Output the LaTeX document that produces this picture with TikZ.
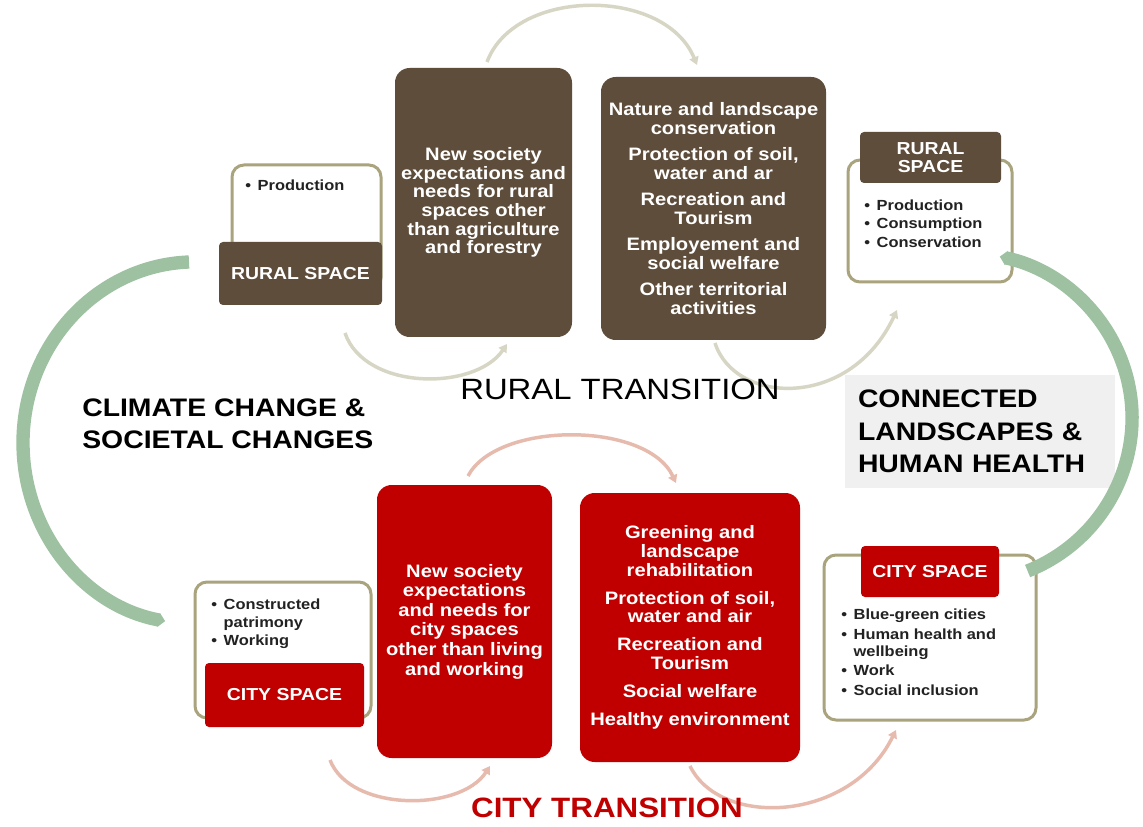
\documentclass[tikz,border=0pt]{standalone}
\usepackage{fontspec}
\setmainfont{Liberation Sans}[FakeStretch=1.12]
\usetikzlibrary{arrows.meta}
\definecolor{brownbox}{HTML}{5E4D3B}
\definecolor{redbox}{HTML}{C00000}
\definecolor{outlinec}{HTML}{A9A47E}
\definecolor{greenarc}{HTML}{9DC1A1}
\definecolor{grayarc}{HTML}{D7D6C4}
\definecolor{pinkarc}{HTML}{E6BAAD}
\definecolor{conngray}{HTML}{F0F0F0}
\definecolor{bultext}{HTML}{222222}
\begin{document}
\begin{tikzpicture}[x=0.75pt,y=-0.75pt,
  bigbox/.style={rounded corners=11pt, inner sep=0pt, text=white, align=center,
    font=\fontsize{13.5}{14}\selectfont\bfseries},
  titlebox/.style={rounded corners=3pt, inner sep=0pt, text=white, align=center,
    font=\fontsize{13}{14}\selectfont\bfseries},
  framebox/.style={draw=outlinec, line width=2.25pt, rounded corners=9pt, fill=white, inner sep=0pt},
  bullets/.style={anchor=west, inner sep=0pt, text=bultext, align=left,
    font=\fontsize{11}{13}\selectfont\bfseries},
  heading/.style={inner sep=0pt, align=left, font=\fontsize{19}{24.4}\selectfont\bfseries},
  greenflow/.style={draw=greenarc, line width=10pt, -{Triangle[length=5pt,width=10.5pt]}},
  rflow/.style={draw=grayarc, line width=2.6pt, -{Triangle[length=6pt,width=7pt]}},
  cflow/.style={draw=pinkarc, line width=2.6pt, -{Triangle[length=6pt,width=7pt]}},
]
\useasboundingbox[fill=white] (0,0) rectangle (1143,827);

% thin transition arcs (behind boxes)
\coordinate (ga1) at (487,62);   \coordinate (ga2) at (697,65);
\coordinate (ga3) at (345,333);  \coordinate (ga4) at (507,344);
\coordinate (ga5) at (715,343);  \coordinate (ga6) at (897,310);
\coordinate (ca1) at (468,476);  \coordinate (ca2) at (676,483);
\coordinate (ca3) at (330,760);  \coordinate (ca4) at (490,766);
\coordinate (ca5) at (690,766);  \coordinate (ca6) at (896,730);
\draw[rflow] (ga1) .. controls (515,-13) and (665,-13) .. (ga2);
\draw[rflow] (ga3) .. controls (365,391) and (475,391) .. (ga4);
\draw[rflow] (ga5) .. controls (735,405) and (850,410) .. (ga6);
\draw[cflow] (ca1) .. controls (497,421) and (647,421) .. (ca2);
\draw[cflow] (ca3) .. controls (350,812) and (460,812) .. (ca4);
\draw[cflow] (ca5) .. controls (720,828) and (850,823) .. (ca6);

% big boxes
\node[bigbox, fill=brownbox, minimum width=132.75pt, minimum height=201.75pt] (b1) at (483.5,202.5)
  {New society\\expectations and\\needs for rural\\spaces other\\than agriculture\\and forestry};
\node[bigbox, fill=brownbox, minimum width=168.75pt, minimum height=197.25pt] (b2) at (713.5,208.5)
  {Nature and landscape\\conservation\\[5.7pt]Protection of soil,\\water and ar\\[5.7pt]Recreation and\\Tourism\\[5.7pt]Employement and\\social welfare\\[5.7pt]Other territorial\\activities};
\node[bigbox, fill=redbox, minimum width=131.25pt, minimum height=204.75pt,
  font=\fontsize{13.5}{14.7}\selectfont\bfseries] (r1) at (464.5,621.5)
  {New society\\expectations\\and needs for\\city spaces\\other than living\\and working};
\node[bigbox, fill=redbox, minimum width=165pt, minimum height=201.75pt] (r2) at (690,627.5)
  {Greening and\\landscape\\rehabilitation\\[7pt]Protection of soil,\\water and air\\[7pt]Recreation and\\Tourism\\[7pt]Social welfare\\[7pt]Healthy environment};

% space boxes: frames
\node[framebox, minimum width=111.75pt, minimum height=93.75pt] (o1) at (306.5,227.5) {};
\node[framebox, minimum width=123pt, minimum height=91.5pt] (o2) at (930,221) {};
\node[framebox, minimum width=132pt, minimum height=102pt] (o3) at (283,650) {};
\node[framebox, minimum width=159pt, minimum height=123.75pt] (o4) at (930,637.5) {};

% space boxes: titles
\node[titlebox, fill=brownbox, minimum width=122.25pt, minimum height=47.25pt] (t1) at (300.5,273.5) {RURAL SPACE};
\node[titlebox, fill=brownbox, minimum width=105.75pt, minimum height=38.25pt] (t2) at (930.5,157.5) {RURAL\\SPACE};
\node[titlebox, fill=redbox, minimum width=119.25pt, minimum height=48pt] (t3) at (284.5,695) {CITY SPACE};
\node[titlebox, fill=redbox, minimum width=103.5pt, minimum height=38.25pt] (t4) at (930,571.5) {CITY SPACE};

% bullet lists
\node[bullets] (l1) at (245,187) {\begin{tabular}{@{}l@{\hspace{5pt}}l@{}}\textbullet & Production\end{tabular}};
\node[bullets] (l2) at (864,225.5) {\begin{tabular}{@{}l@{\hspace{5pt}}l@{}}\textbullet & Production\\[1pt]\textbullet & Consumption\\[1pt]\textbullet & Conservation\end{tabular}};
\node[bullets] (l3) at (211,624.5) {\begin{tabular}{@{}l@{\hspace{5pt}}l@{}}\textbullet & Constructed\\ & patrimony\\[1pt]\textbullet & Working\end{tabular}};
\node[bullets] (l4) at (841,654) {\begin{tabular}{@{}l@{\hspace{5pt}}l@{}}\textbullet & Blue-green cities\\[1.5pt]\textbullet & Human health and\\ & wellbeing\\[1.5pt]\textbullet & Work\\[1.5pt]\textbullet & Social inclusion\end{tabular}};

% headings
\node[heading, anchor=west] (cc) at (82,424) {CLIMATE CHANGE \&\\SOCIETAL CHANGES};
\node[heading, fill=conngray, text width=183pt, inner xsep=9.75pt, minimum height=84.75pt] (cl) at (980,431.5)
  {CONNECTED\\LANDSCAPES \&\\HUMAN HEALTH};
\node[inner sep=0pt, font=\fontsize{22}{26}\selectfont] (rt) at (620,389) {RURAL TRANSITION};
\node[inner sep=0pt, text=redbox, font=\fontsize{21}{25}\selectfont\bfseries] (ct) at (607,808) {CITY TRANSITION};

% big green arcs
\coordinate (lg1) at (189,262);
\coordinate (rg1) at (1027.6,571);
\draw[greenflow] (lg1) arc[start angle=-92, end angle=-260, x radius=172, y radius=181];
\draw[greenflow] (rg1) arc[start angle=68, end angle=-78, x radius=167, y radius=165];
\end{tikzpicture}
\end{document}
